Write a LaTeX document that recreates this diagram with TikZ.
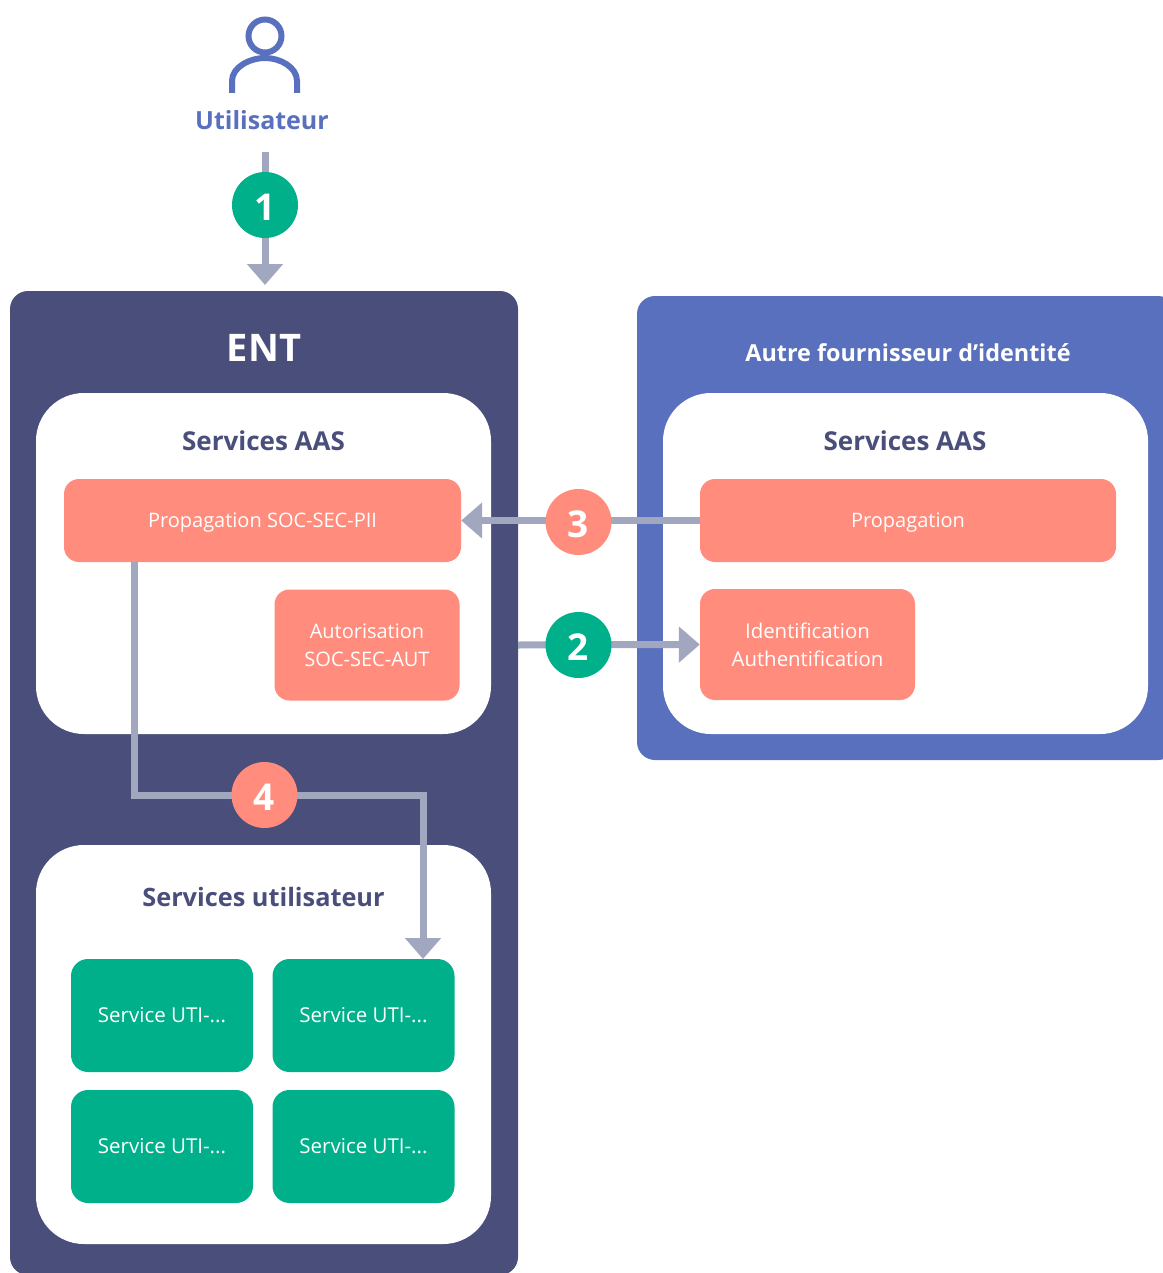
\documentclass[tikz,border=0pt]{standalone}
\usepackage{fontspec}
\setmainfont{Open Sans}
\usetikzlibrary{arrows.meta}
\definecolor{entblue}{HTML}{4A4E7A}
\definecolor{idpblue}{HTML}{5870BD}
\definecolor{salmon}{HTML}{FF8C7C}
\definecolor{teal}{HTML}{00B08A}
\definecolor{flowgrey}{HTML}{A2A7C0}
\tikzset{
	panel/.style={fill=white,rounded corners=48pt,inner sep=0pt},
	svcbox/.style={text=white,inner sep=0pt,align=center,font=\fontsize{20}{28}\selectfont},
	salmonbox/.style={svcbox,fill=salmon,rounded corners=15pt},
	utibox/.style={svcbox,fill=teal,rounded corners=17pt,minimum width=182pt,minimum height=113pt,font=\fontsize{20.5}{28}\selectfont},
	paneltitle/.style={text=entblue,inner sep=0pt,font=\fontsize{26}{30}\selectfont\bfseries},
	badge/.style={circle,text=white,inner sep=0pt,minimum size=66pt,text height=30.5pt,text depth=0pt,font=\fontsize{37}{40}\selectfont\bfseries},
	flow/.style={draw=flowgrey,line width=7pt,-{Triangle[length=21pt,width=35pt]}}
}
\begin{document}
\begin{tikzpicture}[x=1pt,y=-1pt]
	\useasboundingbox (0,0) rectangle (1162,1273);

	% user
	\draw[idpblue,line width=6pt] (265,36) circle (16.5pt);
	\draw[idpblue,line width=6pt] (232,93) -- (232,81) .. controls (232,67) and (250,58) .. (265,58)
		.. controls (280,58) and (297,67) .. (297,81) -- (297,93);
	\node[text=idpblue,inner sep=0pt,font=\fontsize{25}{30}\selectfont\bfseries] (usr) at (262,120.5) {Utilisateur};

	% outer boxes
	\node[fill=entblue,rounded corners=18pt,minimum width=508pt,minimum height=984pt,inner sep=0pt] (ent) at (264,783) {};
	\node[fill=idpblue,rounded corners=18pt,minimum width=539pt,minimum height=464pt,inner sep=0pt] (idp) at (906.5,528) {};
	\node[text=white,inner sep=0pt,font=\fontsize{38}{40}\selectfont\bfseries] (entlbl) at (264,348) {ENT};
	\node[text=white,inner sep=0pt,font=\fontsize{23.4}{30}\selectfont\bfseries] (idplbl) at (908,352.5) {Autre fournisseur d’identité};

	% white panels
	\node[panel,minimum width=455pt,minimum height=341pt] (aas) at (263.5,563.5) {};
	\node[panel,minimum width=485pt,minimum height=341pt] (idpaas) at (905.5,563.5) {};
	\node[panel,minimum width=455pt,minimum height=399pt] (svc) at (263.5,1044.5) {};
	\node[paneltitle] (aaslbl) at (263.5,441) {Services AAS};
	\node[paneltitle] (idpaaslbl) at (905,441) {Services AAS};
	\node[paneltitle,font=\fontsize{25.3}{30}\selectfont\bfseries] (svclbl) at (263.5,897) {Services utilisateur};

	% services
	\node[salmonbox,minimum width=397pt,minimum height=83pt,text height=14pt,text depth=0pt] (prop) at (262.5,520.5) {Propagation SOC-SEC-PII};
	\node[salmonbox,minimum width=185pt,minimum height=111pt] (autor) at (367,645) {Autorisation\\SOC-SEC-AUT};
	\node[salmonbox,minimum width=416pt,minimum height=83pt,text height=14pt,text depth=0pt] (idpprop) at (908,520.5) {Propagation};
	\node[salmonbox,minimum width=215pt,minimum height=111pt,font=\fontsize{20.4}{28}\selectfont] (ident) at (807.5,644.5) {Identification\\Authentification};
	\node[utibox] (uti1) at (162,1015.5) {Service UTI-...};
	\node[utibox] (uti2) at (363.5,1015.5) {Service UTI-...};
	\node[utibox] (uti3) at (162,1146.5) {Service UTI-...};
	\node[utibox] (uti4) at (363.5,1146.5) {Service UTI-...};

	% flows
	\coordinate (usrout) at (265,152);
	\coordinate (entin) at (265,285);
	\coordinate (entout) at (518,645);
	\coordinate (propout) at (134,562);
	\coordinate (utiin) at (423,959);
	\draw[flow] (usrout) -- (entin);
	\draw[flow] (entout) -- (ident.west);
	\draw[flow] (idpprop.west) -- (prop.east);
	\draw[flow] (propout) |- (423,795) -- (utiin);

	% steps
	\node[badge,fill=teal] (st1) at (265,205) {1};
	\node[badge,fill=teal] (st2) at (578.5,645) {2};
	\node[badge,fill=salmon] (st3) at (578.5,522) {3};
	\node[badge,fill=salmon] (st4) at (264.5,795) {4};
\end{tikzpicture}
\end{document}
